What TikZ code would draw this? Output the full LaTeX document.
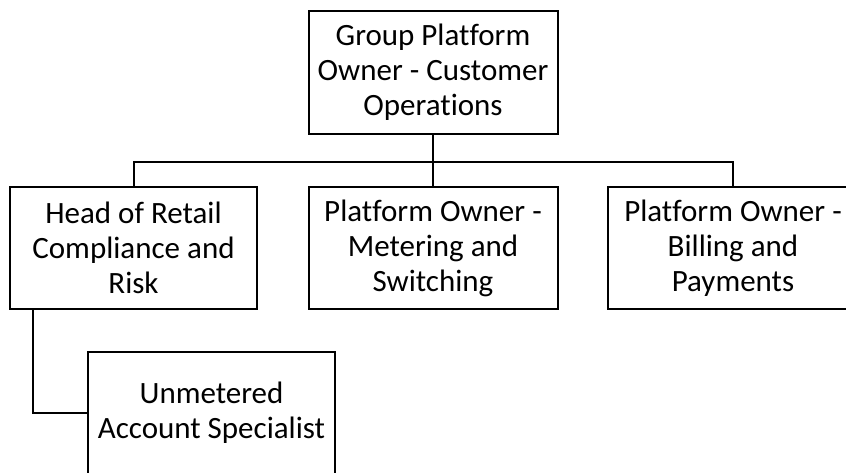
\documentclass[tikz,border=0pt]{standalone}
\usepackage{fontspec}
\setmainfont[Ligatures={NoCommon}]{Carlito}
\begin{document}
\begin{tikzpicture}[x=1pt,y=-1pt,
  orgbox/.style={draw=black,line width=2pt,fill=white,minimum width=249pt,minimum height=122pt,
    align=center,inner sep=0pt,font=\fontsize{31}{35}\selectfont},
  link/.style={draw=black,line width=2pt}]
\useasboundingbox (0,0) rectangle (846,472);
\fill[white] (0,0) rectangle (846,472);
\node[orgbox,minimum height=123pt] (top) at (433,72.5) {Group Platform\\Owner - Customer\\Operations};
\node[orgbox,minimum width=247pt] (c1) at (133.5,248) {Head of Retail\\Compliance and\\Risk};
\node[orgbox] (c2) at (433,248) {Platform Owner -\\Metering and\\Switching};
\node[orgbox,minimum width=250pt] (c3) at (733,248) {Platform Owner -\\Billing and\\Payments};
\node[orgbox,minimum width=247pt] (b) at (211.5,413) {Unmetered\\Account Specialist};
\draw[link] (top.south) -- ++(0,27) coordinate (bus);
\draw[link] (bus) -| (c1.north);
\draw[link] (bus) -| (c3.north);
\draw[link] (bus) -- (c2.north);
\draw[link] ([xshift=24pt]c1.south west) |- (b.west);
\end{tikzpicture}
\end{document}
